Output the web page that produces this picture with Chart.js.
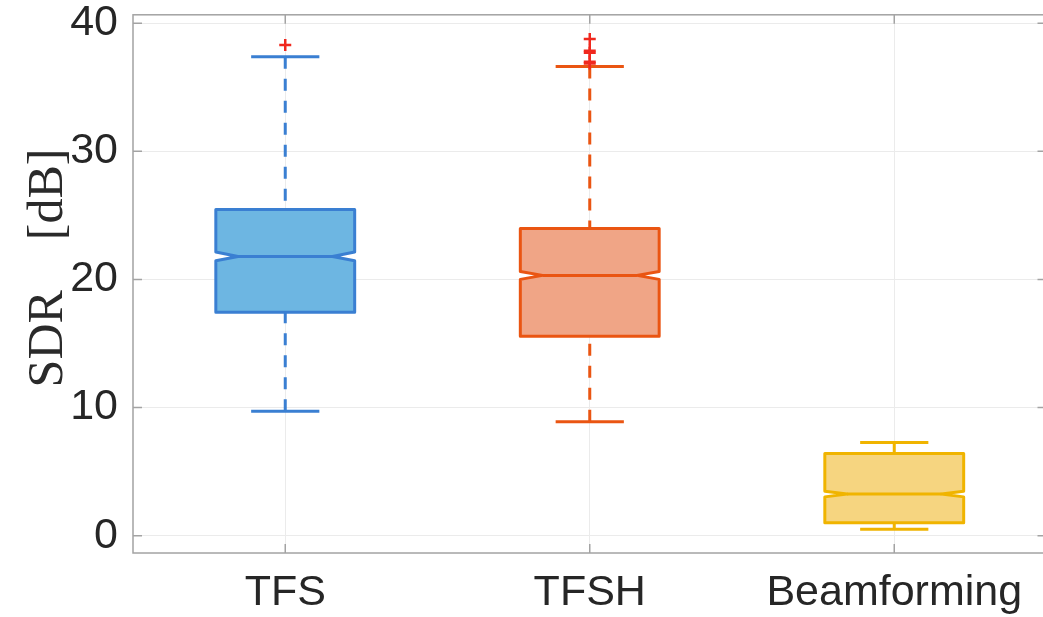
<!DOCTYPE html>
<html>
<head>
<meta charset="utf-8">
<script src="https://cdn.jsdelivr.net/npm/chart.js@4.4.1/dist/chart.umd.min.js"></script>
<style>
  html, body { margin: 0; padding: 0; background: #fff; overflow: hidden; }
  /* shifted up / widened so the plot frame lands where it is in the figure */
  #wrap { position: relative; width: 1055px; height: 643px; margin-top: -26px; }
</style>
</head>
<body>
<div id="wrap"><canvas id="myChart"></canvas></div>
<script>
// values (dB)
const categories = ['TFS', 'TFSH', 'Beamforming'];
const whiskerLow = [9.72, 8.9, 0.5];
const q1 = [17.44, 15.56, 1.01];
const median = [21.8, 20.32, 3.25];
const q3 = [25.46, 23.98, 6.42];
const whiskerHigh = [37.38, 36.63, 7.28];
const notchLow = [21.46, 20.01, 3.03];
const notchHigh = [22.14, 20.63, 3.47];
const outliers = [[38.3], [38.77, 37.85, 37.7, 37.0, 36.85], []];
const yTicks = [0, 10, 20, 30, 40];
const yTitle = 'SDR\u2002\u2002[dB]';

const edgeColors = ['#3a7fd2', '#ea5512', '#f0b400'];
const fillColors = ['#6db6e2', '#f0a586', '#f6d580'];
const outlierColor = '#f0281e';
const frameColor = '#a3a3a3';

// box plot drawing, positions come from the chart's own scales
const boxPlugin = {
  id: 'boxPlugin',
  beforeDatasetsDraw(chart) {
    const ctx = chart.ctx;
    const x = chart.scales.x;
    const y = chart.scales.y;
    const halfW = 0.228;
    const capW = 0.112;
    const notchW = 0.155;
    ctx.save();
    for (let i = 0; i < categories.length; i++) {
      const cx = x.getPixelForValue(i + 1);
      const hw = x.getPixelForValue(i + 1 + halfW) - cx;
      const cw = x.getPixelForValue(i + 1 + capW) - cx;
      const nw = x.getPixelForValue(i + 1 + notchW) - cx;
      const yq1 = y.getPixelForValue(q1[i]);
      const yq3 = y.getPixelForValue(q3[i]);
      const ym = y.getPixelForValue(median[i]);
      const ynl = y.getPixelForValue(notchLow[i]);
      const ynh = y.getPixelForValue(notchHigh[i]);
      const ywl = y.getPixelForValue(whiskerLow[i]);
      const ywh = y.getPixelForValue(whiskerHigh[i]);

      ctx.strokeStyle = edgeColors[i];
      ctx.lineWidth = 3;
      ctx.lineJoin = 'round';

      // whiskers (dashed, starting at the cap)
      ctx.setLineDash([12, 10]);
      ctx.beginPath();
      ctx.moveTo(cx, ywh);
      ctx.lineTo(cx, yq3);
      ctx.moveTo(cx, ywl);
      ctx.lineTo(cx, yq1);
      ctx.stroke();
      ctx.setLineDash([]);

      // caps
      ctx.beginPath();
      ctx.moveTo(cx - cw, ywh);
      ctx.lineTo(cx + cw, ywh);
      ctx.moveTo(cx - cw, ywl);
      ctx.lineTo(cx + cw, ywl);
      ctx.stroke();

      // notched box
      ctx.beginPath();
      ctx.moveTo(cx - hw, yq3);
      ctx.lineTo(cx + hw, yq3);
      ctx.lineTo(cx + hw, ynh);
      ctx.lineTo(cx + nw, ym);
      ctx.lineTo(cx + hw, ynl);
      ctx.lineTo(cx + hw, yq1);
      ctx.lineTo(cx - hw, yq1);
      ctx.lineTo(cx - hw, ynl);
      ctx.lineTo(cx - nw, ym);
      ctx.lineTo(cx - hw, ynh);
      ctx.closePath();
      ctx.fillStyle = fillColors[i];
      ctx.fill();
      ctx.stroke();

      // median
      ctx.beginPath();
      ctx.moveTo(cx - nw, ym);
      ctx.lineTo(cx + nw, ym);
      ctx.stroke();
    }
    ctx.restore();
  },
  afterDraw(chart) {
    // full frame and inward ticks on all four sides
    const ctx = chart.ctx;
    const a = chart.chartArea;
    const x = chart.scales.x;
    const y = chart.scales.y;
    const tl = 9;
    ctx.save();
    ctx.strokeStyle = frameColor;
    ctx.lineWidth = 1.5;
    ctx.strokeRect(a.left, a.top, a.right - a.left, a.bottom - a.top);
    ctx.beginPath();
    yTicks.forEach(v => {
      const py = y.getPixelForValue(v);
      ctx.moveTo(a.left, py); ctx.lineTo(a.left + tl, py);
      ctx.moveTo(a.right, py); ctx.lineTo(a.right - tl, py);
    });
    categories.forEach((c, i) => {
      const px = x.getPixelForValue(i + 1);
      ctx.moveTo(px, a.bottom); ctx.lineTo(px, a.bottom - tl);
      ctx.moveTo(px, a.top); ctx.lineTo(px, a.top + tl);
    });
    ctx.stroke();

    // y axis title, set a bit above the middle like the figure
    ctx.translate(62, y.getPixelForValue(20.9));
    ctx.rotate(-Math.PI / 2);
    ctx.fillStyle = '#2a2a2a';
    ctx.font = '50px "Liberation Serif"';
    ctx.textAlign = 'center';
    ctx.textBaseline = 'alphabetic';
    ctx.fillText(yTitle, 0, 0);
    ctx.restore();
  }
};

const outlierPoints = [];
outliers.forEach((list, i) => list.forEach(v => outlierPoints.push({ x: i + 1, y: v })));

const ctx = document.getElementById('myChart').getContext('2d');
const myChart = new Chart(ctx, {
  type: 'scatter',
  data: {
    datasets: [{
      label: 'Outliers',
      data: outlierPoints,
      pointStyle: 'cross',
      pointRadius: 6,
      pointBorderWidth: 2.5,
      borderColor: outlierColor,
      backgroundColor: outlierColor
    }]
  },
  options: {
    responsive: true,
    maintainAspectRatio: false,
    animation: false,
    layout: { padding: { top: 14, right: 5, bottom: 0, left: 0 } },
    plugins: { legend: { display: false }, tooltip: { enabled: false } },
    scales: {
      x: {
        type: 'linear',
        min: 0.5,
        max: 3.5,
        afterBuildTicks: scale => { scale.ticks = categories.map((c, i) => ({ value: i + 1 })); },
        afterFit: scale => { scale.height = 64; },
        grid: { color: '#ebebeb', lineWidth: 1, drawTicks: false },
        border: { display: false },
        ticks: {
          padding: 14,
          color: '#262626',
          font: { family: 'Liberation Sans', size: 43 },
          callback: v => categories[v - 1],
          maxRotation: 0
        }
      },
      y: {
        type: 'linear',
        min: -1.35,
        max: 40.66,
        afterBuildTicks: scale => { scale.ticks = yTicks.map(v => ({ value: v })); },
        afterFit: scale => { scale.width = 133; },
        grid: { color: '#ebebeb', lineWidth: 1, drawTicks: false },
        border: { display: false },
        ticks: {
          padding: 15,
          color: '#262626',
          font: { family: 'Liberation Sans', size: 43 }
        }
      }
    }
  },
  plugins: [boxPlugin]
});
</script>
</body>
</html>
